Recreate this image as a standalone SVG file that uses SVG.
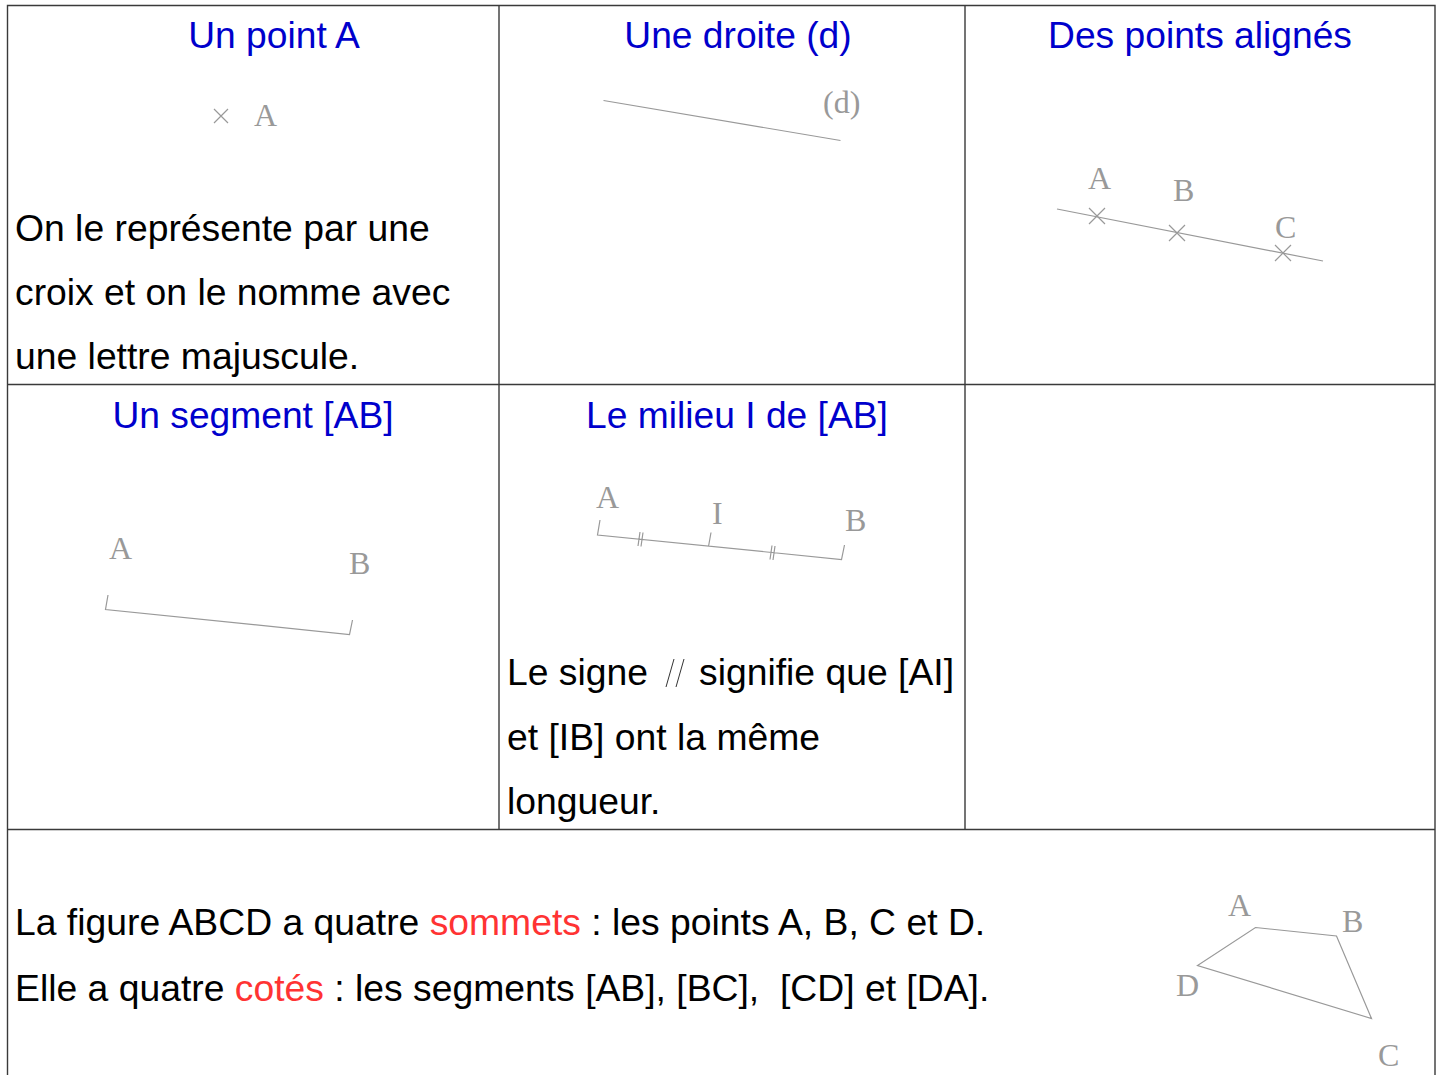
<svg xmlns="http://www.w3.org/2000/svg" width="1444" height="1075" viewBox="0 0 1444 1075">
<style>
.grid{stroke:#3a3a3a;stroke-width:1.4;fill:none}
.title{font-family:"Liberation Sans",Arial,sans-serif;font-size:37.2px;fill:#0000cc;text-anchor:middle}
.body{font-family:"Liberation Sans",Arial,sans-serif;font-size:37.3px;fill:#000}
.red{fill:#ff3333}
.lbl{font-family:"Liberation Serif","Times New Roman",serif;font-size:32px;fill:#999}
.fig{stroke:#999;stroke-width:1.2;fill:none}
.sign{stroke:#333;stroke-width:1;fill:none}
</style>
<rect width="1444" height="1075" fill="#fff"/>
<g id="table">
<path class="grid" d="M7.5,1075 V5.5 H1435 V1075 M7.5,384.5 H1435 M7.5,829.5 H1435 M499,5.5 V829.5 M965,5.5 V829.5"/>
</g>
<g id="cell-point">
<text class="title" x="274" y="48">Un point A</text>
<path class="fig" d="M214,109 L228,123 M228,109 L214,123"/>
<text class="lbl" x="254" y="126">A</text>
<text class="body" x="15" y="241">On le représente par une</text>
<text class="body" x="15" y="305">croix et on le nomme avec</text>
<text class="body" x="15" y="369">une lettre majuscule.</text>
</g>
<g id="cell-droite">
<text class="title" x="738" y="48">Une droite (d)</text>
<line class="fig" x1="603.5" y1="100.5" x2="840.5" y2="140.5"/>
<text class="lbl" x="823" y="113">(d)</text>
</g>
<g id="cell-alignes">
<text class="title" x="1200" y="48">Des points alignés</text>
<line class="fig" x1="1057" y1="209" x2="1323" y2="261"/>
<path class="fig" d="M1089,208 L1105,224 M1105,208 L1089,224 M1169,225 L1185,241 M1185,225 L1169,241 M1275,245 L1291,261 M1291,245 L1275,261"/>
<text class="lbl" x="1088" y="189">A</text>
<text class="lbl" x="1173" y="201">B</text>
<text class="lbl" x="1275" y="238">C</text>
</g>
<g id="cell-segment">
<text class="title" x="253" y="428">Un segment [AB]</text>
<path class="fig" d="M108,595 L105.5,609.5 L349.5,634.5 L352.5,620"/>
<text class="lbl" x="109" y="559">A</text>
<text class="lbl" x="349" y="574">B</text>
</g>
<g id="cell-milieu">
<text class="title" x="737" y="428">Le milieu I de [AB]</text>
<path class="fig" d="M600,520 L597.5,535 L841.5,559.5 L844.5,545 M708.5,546.5 L711,532.5 M640,532 L638,546 M643,532.5 L641,546.5 M772,545.5 L770,559.5 M775,546 L773,560"/>
<text class="lbl" x="596" y="508">A</text>
<text class="lbl" x="712" y="524">I</text>
<text class="lbl" x="845" y="531">B</text>
<text class="body" x="507" y="685">Le signe</text>
<path class="sign" d="M674,659 L666,687 M684,659 L676,687"/>
<text class="body" x="699" y="685">signifie que [AI]</text>
<text class="body" x="507" y="750">et [IB] ont la même</text>
<text class="body" x="507" y="814">longueur.</text>
</g>
<g id="cell-empty"></g>
<g id="cell-figure">
<text class="body" x="15" y="935" xml:space="preserve">La figure ABCD a quatre <tspan class="red">sommets</tspan> : les points A, B, C et D.</text>
<text class="body" x="15" y="1001" xml:space="preserve">Elle a quatre <tspan class="red">cotés</tspan> : les segments [AB], [BC],  [CD] et [DA].</text>
<path class="fig" d="M1255.5,927.5 L1336.5,936 L1371.5,1018.5 L1197.5,965.5 Z"/>
<text class="lbl" x="1228" y="916">A</text>
<text class="lbl" x="1342" y="932">B</text>
<text class="lbl" x="1378" y="1066">C</text>
<text class="lbl" x="1176" y="996">D</text>
</g>
</svg>
